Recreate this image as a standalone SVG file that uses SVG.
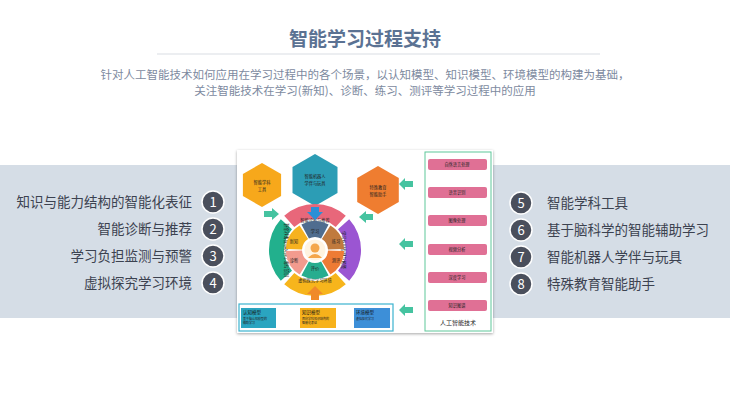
<svg xmlns="http://www.w3.org/2000/svg" width="730" height="411" viewBox="0 0 730 411">
<defs>
<style>
text{font-family:"Noto Sans CJK SC","Liberation Sans",sans-serif}
.item{font-size:13.5px;fill:#3c4250}
.num{font-size:13px;fill:#fff;text-anchor:middle}
.tiny{font-size:4.2px;fill:#222;text-anchor:middle}
.btn{fill:#e07095}
.ga{fill:#45c3a0}
</style>
<filter id="sh" x="-5%" y="-5%" width="110%" height="115%"><feDropShadow dx="0" dy="1" stdDeviation="1.5" flood-opacity="0.35"/></filter>
</defs>
<rect width="730" height="411" fill="#fff"/>
<rect x="0" y="165" width="730" height="153" fill="#d5dde6"/>
<g id="title">
<text x="365" y="46" text-anchor="middle" font-size="19" font-weight="bold" fill="#5b7293">智能学习过程支持</text>
<line x1="157" y1="54" x2="600" y2="54" stroke="#d9dde3" stroke-width="1"/>
<text x="365" y="79" text-anchor="middle" font-size="11.5" fill="#7d8aa0">针对人工智能技术如何应用在学习过程中的各个场景，以认知模型、知识模型、环境模型的构建为基础，</text>
<text x="365" y="95" text-anchor="middle" font-size="11.5" fill="#7d8aa0">关注智能技术在学习(新知)、诊断、练习、测评等学习过程中的应用</text>
</g>
<g id="left-items">
<g id="item1"><text class="item" x="192" y="207" text-anchor="end">知识与能力结构的智能化表征</text><circle cx="213" cy="202" r="11" fill="#4a4f5c" stroke="#fff" stroke-width="1.5"/><text class="num" x="213" y="207">1</text></g>
<g id="item2"><text class="item" x="192" y="234" text-anchor="end">智能诊断与推荐</text><circle cx="213" cy="229" r="11" fill="#4a4f5c" stroke="#fff" stroke-width="1.5"/><text class="num" x="213" y="234">2</text></g>
<g id="item3"><text class="item" x="192" y="261" text-anchor="end">学习负担监测与预警</text><circle cx="213" cy="256" r="11" fill="#4a4f5c" stroke="#fff" stroke-width="1.5"/><text class="num" x="213" y="261">3</text></g>
<g id="item4"><text class="item" x="192" y="288" text-anchor="end">虚拟探究学习环境</text><circle cx="213" cy="283" r="11" fill="#4a4f5c" stroke="#fff" stroke-width="1.5"/><text class="num" x="213" y="288">4</text></g>
</g>
<g id="right-items">
<g id="item5"><circle cx="521" cy="203" r="11" fill="#4a4f5c" stroke="#fff" stroke-width="1.5"/><text class="num" x="521" y="208">5</text><text class="item" x="547" y="208">智能学科工具</text></g>
<g id="item6"><circle cx="521" cy="230" r="11" fill="#4a4f5c" stroke="#fff" stroke-width="1.5"/><text class="num" x="521" y="235">6</text><text class="item" x="547" y="235">基于脑科学的智能辅助学习</text></g>
<g id="item7"><circle cx="521" cy="257" r="11" fill="#4a4f5c" stroke="#fff" stroke-width="1.5"/><text class="num" x="521" y="262">7</text><text class="item" x="547" y="262">智能机器人学伴与玩具</text></g>
<g id="item8"><circle cx="521" cy="284" r="11" fill="#4a4f5c" stroke="#fff" stroke-width="1.5"/><text class="num" x="521" y="289">8</text><text class="item" x="547" y="289">特殊教育智能助手</text></g>
</g>
<g id="panel">
<rect x="237" y="150" width="256" height="183" fill="#fff" filter="url(#sh)"/>
</g>
<g id="hexagons">
<g id="hex-tool"><polygon points="262,163 281.1,174 281.1,196 262,207 242.9,196 242.9,174" fill="#f7a81b"/><text class="tiny" x="262" y="184" font-size="5">智能学科</text><text class="tiny" x="262" y="191" font-size="5">工具</text></g>
<g id="hex-robot"><polygon points="315,154 337.5,167 337.5,193 315,206 292.5,193 292.5,167" fill="#2c9db5"/><text class="tiny" x="315" y="178" font-size="5">智能机器人</text><text class="tiny" x="315" y="185" font-size="5">学伴与玩具</text></g>
<g id="hex-special"><polygon points="378,166 398.8,178 398.8,202 378,214 357.2,202 357.2,178" fill="#ef7d30"/><text class="tiny" x="378" y="189" font-size="5">特殊教育</text><text class="tiny" x="378" y="196" font-size="5">智能助手</text></g>
</g>
<g id="ring">
<path d="M284.2,215.8 A46,46 0 0 1 345.8,215.8 L335.7,227 A31,31 0 0 0 294.3,227 Z" fill="#e8677a"/>
<path d="M349.2,219.2 A46,46 0 0 1 349.2,280.8 L338,270.7 A31,31 0 0 0 338,229.3 Z" fill="#9b55d2"/>
<path d="M345.8,284.2 A46,46 0 0 1 284.2,284.2 L294.3,273 A31,31 0 0 0 335.7,273 Z" fill="#f7b51c"/>
<path d="M280.8,280.8 A46,46 0 0 1 280.8,219.2 L292,229.3 A31,31 0 0 0 292,270.7 Z" fill="#22b08d"/>
<text class="tiny" x="315" y="222">智能诊断与推荐</text>
<text class="tiny" x="315" y="282">虚拟探究学习环境</text>
<text class="tiny" transform="translate(342,250) rotate(90)">学习负担监测与预警</text>
<text class="tiny" transform="translate(288,250) rotate(-90)">知识与能力结构的智能化表征</text>
<path d="M301.4,224.4 A29,29 0 0 1 328.6,224.4 L321.1,238.5 A13,13 0 0 0 308.9,238.5 Z" fill="#4f6d8f"/>
<path d="M330.4,225.4 A29,29 0 0 1 344,249 L328,249.5 A13,13 0 0 0 321.9,239 Z" fill="#c07a3e"/>
<path d="M344,251 A29,29 0 0 1 330.4,274.6 L321.9,261 A13,13 0 0 0 328,250.5 Z" fill="#ee7b35"/>
<path d="M328.6,275.6 A29,29 0 0 1 301.4,275.6 L308.9,261.5 A13,13 0 0 0 321.1,261.5 Z" fill="#27ad8f"/>
<path d="M299.6,274.6 A29,29 0 0 1 286,251 L302,250.5 A13,13 0 0 0 308.1,261 Z" fill="#f29b8e"/>
<path d="M286,249 A29,29 0 0 1 299.6,225.4 L308.1,239 A13,13 0 0 0 302,249.5 Z" fill="#f6b21f"/>
<text class="tiny" x="315" y="233">学习</text>
<text class="tiny" x="336" y="243">练习</text>
<text class="tiny" x="336" y="262">测评</text>
<text class="tiny" x="315" y="270">评价</text>
<text class="tiny" x="294" y="262">诊断</text>
<text class="tiny" x="294" y="243">新知</text>
<circle cx="315" cy="250" r="10.5" fill="#fff3e0"/>
<circle cx="315" cy="248" r="4.5" fill="#f4a64a"/>
<path d="M308,258 Q315,250 322,258 Z" fill="#f4a64a"/>
</g>
<g id="connectors">
<path d="M264,211 L272,211 L272,208 L279,214 L272,220 L272,217 L264,217 Z" class="ga"/>
<path d="M373,214 L366,214 L366,211 L359,217 L366,223 L366,220 L373,220 Z" class="ga"/>
<path d="M311,207 L319,207 L319,212 L323,212 L315,220 L307,212 L311,212 Z" fill="#2b8fd6"/>
<path d="M311,300 L319,300 L319,294 L323,294 L315,286 L307,294 L311,294 Z" fill="#f08a2a"/>
<path d="M413,181 L405,181 L405,178 L399,184 L405,190 L405,187 L413,187 Z" class="ga"/>
<path d="M413,241 L405,241 L405,238 L399,244 L405,250 L405,247 L413,247 Z" class="ga"/>
<path d="M413,307 L405,307 L405,304 L399,310 L405,316 L405,313 L413,313 Z" class="ga"/>
</g>
<g id="ai-tech">
<rect x="425" y="152" width="66" height="179" fill="#fff" stroke="#5fc79a" stroke-width="1"/>
<rect class="btn" x="428" y="159" width="59" height="11" rx="2"/><text class="tiny" x="457" y="166">自然语言处理</text>
<rect class="btn" x="428" y="187" width="59" height="11" rx="2"/><text class="tiny" x="457" y="194">语音识别</text>
<rect class="btn" x="428" y="215" width="59" height="11" rx="2"/><text class="tiny" x="457" y="222">图像处理</text>
<rect class="btn" x="428" y="244" width="59" height="11" rx="2"/><text class="tiny" x="457" y="251">视频分析</text>
<rect class="btn" x="428" y="272" width="59" height="11" rx="2"/><text class="tiny" x="457" y="279">深度学习</text>
<rect class="btn" x="428" y="300" width="59" height="11" rx="2"/><text class="tiny" x="457" y="307">知识图谱</text>
<text x="458" y="325" text-anchor="middle" font-size="6" fill="#222">人工智能技术</text>
</g>
<g id="models">
<rect x="239" y="304" width="154" height="27" fill="#fff" stroke="#3bb3cf" stroke-width="1.2"/>
<g id="m1"><rect x="241" y="308" width="35" height="20" fill="#2aa5c0"/><text x="243" y="314" font-size="4.5" fill="#111">认知模型</text><text x="243" y="320" font-size="3" fill="#222">基于脑认知模型的</text><text x="243" y="324" font-size="3" fill="#222">辅助学习</text></g>
<g id="m2"><rect x="300" y="308" width="36" height="20" fill="#f7b21b"/><text x="302" y="314" font-size="4.5" fill="#111">知识模型</text><text x="302" y="320" font-size="3" fill="#222">面向学科知识结构的</text><text x="302" y="324" font-size="3" fill="#222">智能化表征</text></g>
<g id="m3"><rect x="354" y="308" width="36" height="20" fill="#3d8fd8"/><text x="356" y="314" font-size="4.5" fill="#111">环境模型</text><text x="356" y="320" font-size="3" fill="#222">虚拟探究学习</text></g>
</g>
</svg>
